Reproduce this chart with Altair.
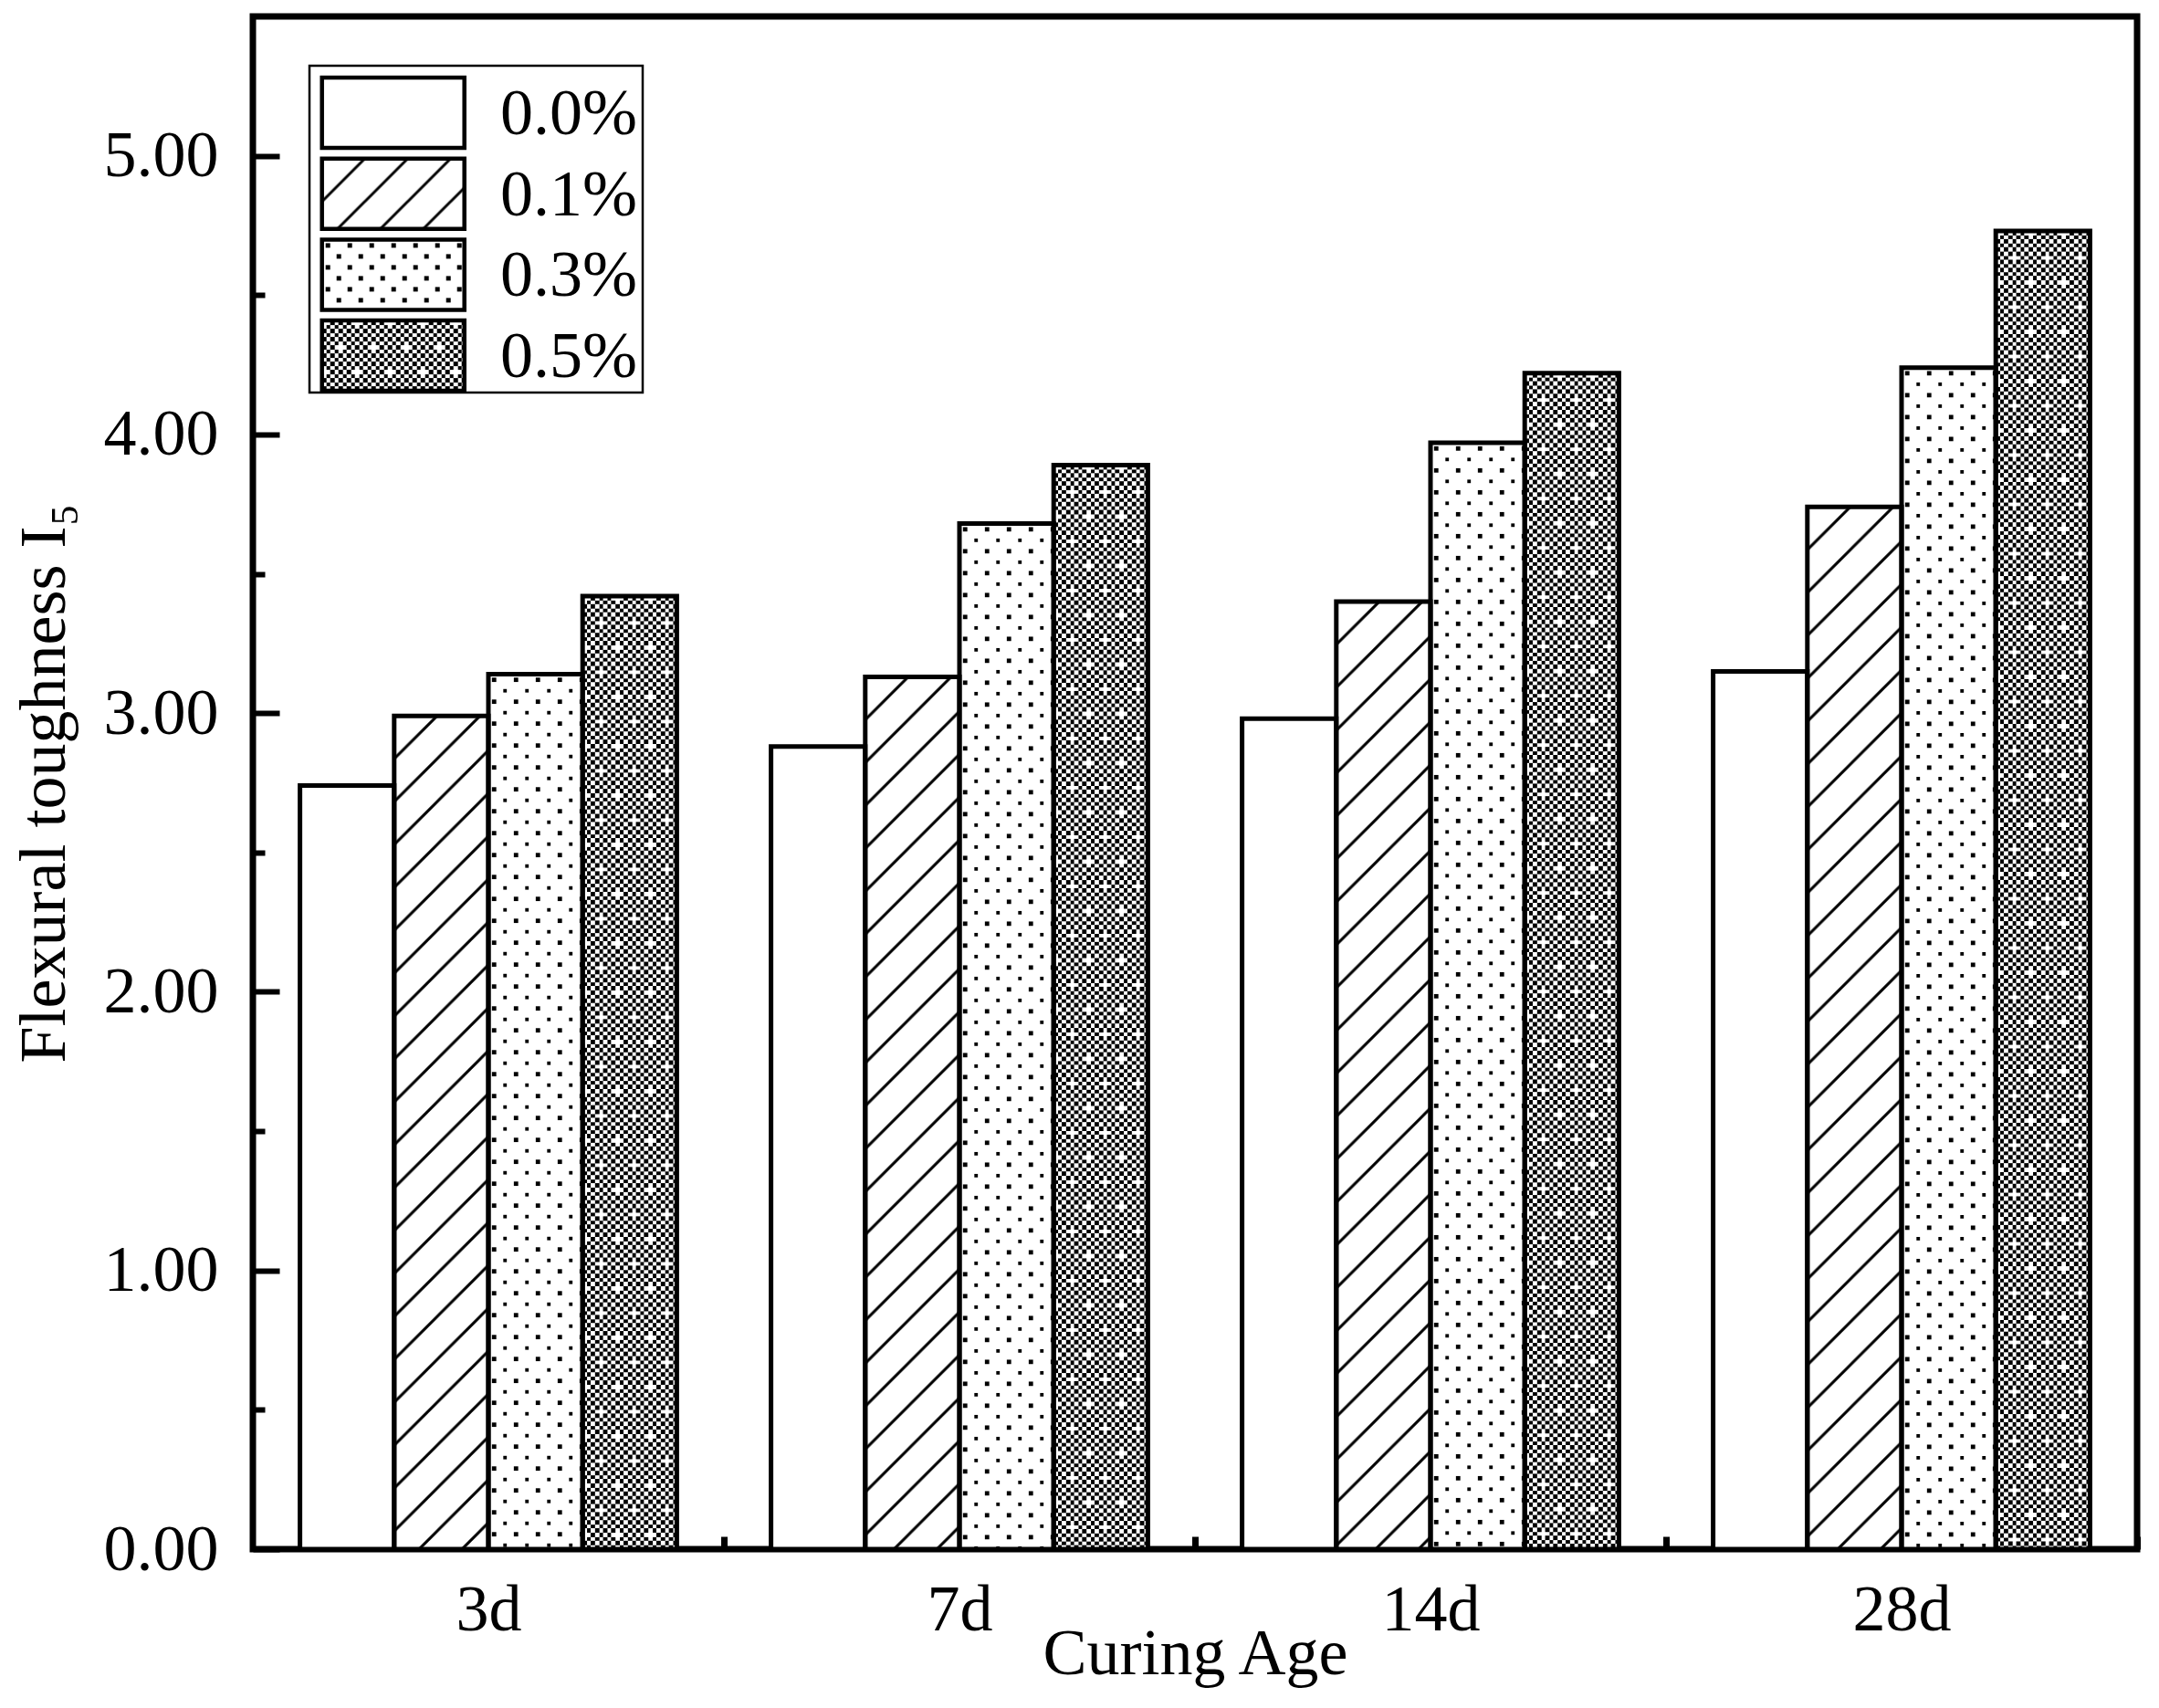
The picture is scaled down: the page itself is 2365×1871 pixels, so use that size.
import base64
import altair as alt
import pandas as pd

# ---------------- data ----------------
AGES = ["3d", "7d", "14d", "28d"]
DOSAGES = ["0.0%", "0.1%", "0.3%", "0.5%"]
I5_00 = [2.74, 2.88, 2.98, 3.15]
I5_01 = [2.99, 3.13, 3.40, 3.74]
I5_03 = [3.14, 3.68, 3.97, 4.24]
I5_05 = [3.42, 3.89, 4.22, 4.73]
Y_TICKS = [0, 1, 2, 3, 4, 5]
Y_MINOR = [0.5, 1.5, 2.5, 3.5, 4.5]
X_TITLE = "Curing Age"
Y_TITLE = "Flexural toughness I\u2085"

rows = []
for d, vals in zip(DOSAGES, [I5_00, I5_01, I5_03, I5_05]):
    for a, v in zip(AGES, vals):
        rows.append({"age": a, "dosage": d, "value": v})
df = pd.DataFrame(rows)

FONT = "Liberation Serif"
W, H = 2064, 1679


# ---------------- fill patterns (as SVG textures) ----------------
def svg_url(body, w, h):
    svg = (
        '<svg xmlns="http://www.w3.org/2000/svg" width="100%" height="100%">'
        f'<defs><pattern id="p" patternUnits="userSpaceOnUse" width="{w}" height="{h}">{body}</pattern></defs>'
        '<rect width="100%" height="100%" fill="#ffffff"/>'
        '<rect width="100%" height="100%" fill="url(#p)"/></svg>'
    )
    return "data:image/svg+xml;base64," + base64.b64encode(svg.encode()).decode()


hatch = svg_url(
    '<path d="M0,47 L47,0 M-12,12 L12,-12 M35,59 L59,35" stroke="#000" stroke-width="3" fill="none"/>',
    47, 47)
dots = svg_url(
    '<g fill="#000" shape-rendering="crispEdges">'
    '<rect x="4" y="4" width="4.5" height="4.5"/><rect x="16" y="16" width="4.5" height="4.5"/></g>',
    24, 24)
c = 4.5
cells = []
for j in range(12):
    for i in range(8):
        if (i + j) % 2 == 0 and (i, j) not in [(0, 0), (4, 6)]:
            cells.append(f'<rect x="{i*c}" y="{j*c}" width="{c}" height="{c}"/>')
checker = svg_url('<g fill="#000" shape-rendering="crispEdges">' + "".join(cells) + "</g>", 8 * c, 12 * c)
PATTERNS = {"0.1%": hatch, "0.3%": dots, "0.5%": checker}

# ---------------- encodings ----------------
x_axis = alt.Axis(
    title=X_TITLE, labelAngle=0, labelFont=FONT, labelFontSize=72, labelColor="black",
    labelBaseline="alphabetic", labelPadding=102,
    tickSize={"expr": "-14"}, tickWidth=7, tickColor="black",
    bandPosition=1, tickOffset=51.6, labelOffset=-51.6,
    domain=False, grid=False,
    titleFont=FONT, titleFontSize=72, titleFontWeight="normal", titleColor="black",
    titleBaseline="alphabetic", titleY=136,
)
y_axis = alt.Axis(
    title=Y_TITLE, values=Y_TICKS, format=".2f",
    labelFont=FONT, labelFontSize=72, labelColor="black", labelPadding=67,
    tickSize={"expr": "-29"}, tickWidth=6, tickColor="black",
    domain=False, grid=False, orient="left",
    titleFont=FONT, titleFontSize=72, titleFontWeight="normal", titleColor="black",
    titleBaseline="alphabetic", titleX=-207,
)
minor_axis = alt.Axis(
    title="", values=Y_MINOR, labels=False, domain=False, grid=False, orient="left",
    tickSize={"expr": "-13"}, tickWidth=6, tickColor="black",
)

x_scale = alt.Scale(domain=AGES, paddingInner=0.2, paddingOuter=0.1)
xo_scale = alt.Scale(domain=DOSAGES, paddingInner=0, paddingOuter=0)
y_scale = alt.Scale(domain=[0, 5.5], nice=False, zero=True)

X = alt.X("age:N", sort=AGES, scale=x_scale, axis=x_axis)
XO = alt.XOffset("dosage:N", sort=DOSAGES, scale=xo_scale)
Y = alt.Y("value:Q", scale=y_scale, axis=y_axis)

base = alt.Chart(df)

white_bars = base.mark_bar(color="white").encode(x=X, xOffset=XO, y=Y)

pattern_layers = []
for d, url in PATTERNS.items():
    pattern_layers.append(
        base.transform_filter(alt.datum.dosage == d)
        .mark_image(aspect=False)
        .encode(x=X, xOffset=XO, y=Y, y2=alt.datum(0), url=alt.value(url))
    )

outline_bars = base.mark_bar(fillOpacity=0, stroke="black", strokeWidth=5).encode(
    x=X, xOffset=XO, y=Y
)

# ---------------- legend (drawn by hand) ----------------
legend_layers = [
    alt.Chart(alt.InlineData(values=[{"k": 0}])).mark_rect(
        fill="white", stroke="black", strokeWidth=2.5
    ).encode(x=alt.value(62), x2=alt.value(427), y=alt.value(54), y2=alt.value(412))
]
PITCH = 88.7
for i, d in enumerate(DOSAGES):
    one = alt.Chart(pd.DataFrame({"label": [d]}))
    y0 = 67 + PITCH * i
    y1 = 144 + PITCH * i
    if d in PATTERNS:
        legend_layers.append(
            one.mark_image(aspect=False).encode(
                x=alt.value(75.7), x2=alt.value(231.7), y=alt.value(y0), y2=alt.value(y1),
                url=alt.value(PATTERNS[d]))
        )
    legend_layers.append(
        one.mark_rect(fillOpacity=0, stroke="black", strokeWidth=4.5).encode(
            x=alt.value(75.7), x2=alt.value(231.7), y=alt.value(y0), y2=alt.value(y1))
    )
    legend_layers.append(
        one.mark_text(font=FONT, fontSize=72, align="left", baseline="alphabetic", color="black")
        .encode(x=alt.value(271), y=alt.value(129 + PITCH * i), text="label:N")
    )

main = alt.layer(white_bars, *pattern_layers, outline_bars, *legend_layers)

minor = base.mark_point(opacity=0).encode(
    y=alt.Y("value:Q", scale=y_scale, axis=minor_axis)
)

chart = (
    alt.layer(main, minor)
    .resolve_axis(y="independent")
    .properties(
        width=W, height=H,
        autosize=alt.AutoSizeParams(type="none"),
        padding={"left": 269, "top": 10, "right": 16, "bottom": 166},
        background="white",
    )
    .configure_view(stroke="black", strokeWidth=7)
)

chart.save("out.html", embed_options={"renderer": "svg", "actions": False})
